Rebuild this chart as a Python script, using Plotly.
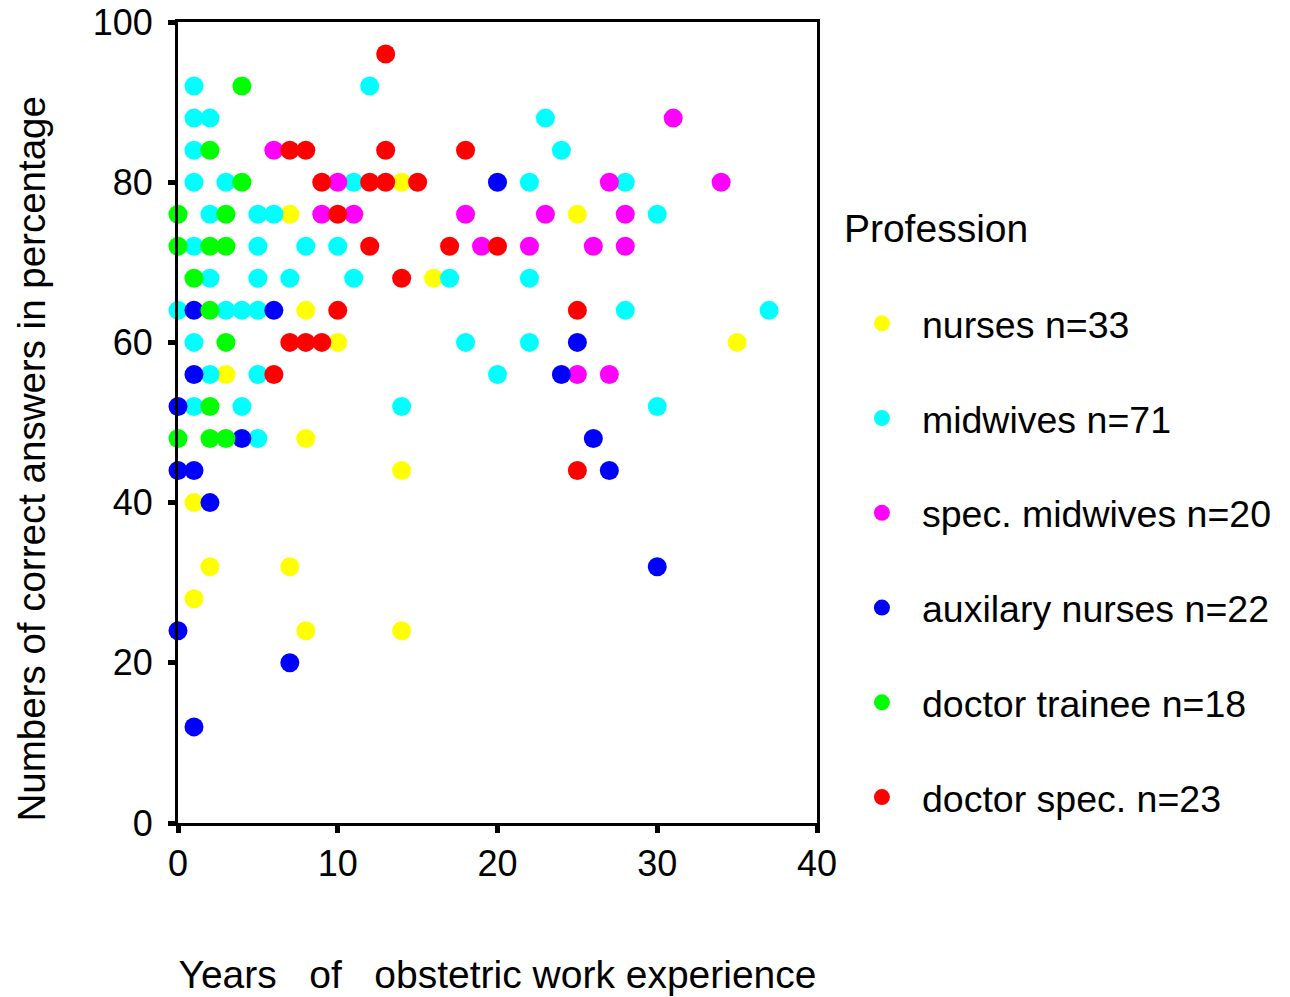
import plotly.graph_objects as go

# ---- data (years of experience, % correct answers) ----
nurses_x = [7, 8, 10, 3, 8, 1, 2, 7, 1, 8, 14, 16, 14, 14, 25, 35]
nurses_y = [76, 64, 60, 56, 48, 40, 32, 32, 28, 24, 80, 68, 44, 24, 76, 60]

midwives_x = [1, 12, 1, 2, 23, 1, 24, 1, 3, 11, 22, 28, 2, 5, 6, 30, 1, 5, 8, 10,
              2, 5, 7, 11, 17, 22, 0, 3, 4, 5, 28, 37, 1, 18, 22, 2, 5, 20, 1, 4, 14, 30, 5]
midwives_y = [92, 92, 88, 88, 88, 84, 84, 80, 80, 80, 80, 80, 76, 76, 76, 76, 72, 72, 72, 72,
              68, 68, 68, 68, 68, 68, 64, 64, 64, 64, 64, 64, 60, 60, 60, 56, 56, 56, 52, 52, 52, 52, 48]

spec_mid_x = [6, 10, 27, 34, 9, 11, 18, 23, 28, 19, 22, 26, 28, 31, 25, 27]
spec_mid_y = [84, 80, 80, 80, 76, 76, 76, 76, 76, 72, 72, 72, 72, 88, 56, 56]

aux_x = [20, 1, 6, 25, 1, 24, 0, 4, 26, 0, 1, 27, 2, 30, 0, 7, 1]
aux_y = [80, 64, 64, 60, 56, 56, 52, 48, 48, 44, 44, 44, 40, 32, 24, 20, 12]

trainee_x = [4, 2, 4, 0, 3, 0, 2, 3, 1, 2, 3, 2, 0, 2, 3]
trainee_y = [92, 84, 80, 76, 76, 72, 72, 72, 68, 64, 60, 52, 48, 48, 48]

docspec_x = [13, 7, 8, 13, 18, 9, 12, 13, 15, 10, 12, 17, 20, 14, 10, 25, 7, 8, 9, 6, 25]
docspec_y = [96, 84, 84, 84, 84, 80, 80, 80, 80, 76, 72, 72, 72, 68, 64, 64, 60, 60, 60, 56, 44]

groups = [
    ("nurses n=33", nurses_x, nurses_y, "#FFFF00"),
    ("midwives n=71", midwives_x, midwives_y, "#00FFFF"),
    ("spec. midwives n=20", spec_mid_x, spec_mid_y, "#FF00FF"),
    ("auxilary nurses n=22", aux_x, aux_y, "#0000FF"),
    ("doctor trainee n=18", trainee_x, trainee_y, "#00FF00"),
    ("doctor spec. n=23", docspec_x, docspec_y, "#FF0000"),
]

x_ticks = [0, 10, 20, 30, 40]
y_ticks = [0, 20, 40, 60, 80, 100]

FONT = "Liberation Sans, Arial, sans-serif"

fig = go.Figure()
for i, (name, xs, ys, col) in enumerate(groups):
    fig.add_trace(go.Scatter(
        x=xs, y=ys, mode="markers", name=name, legendgroup=f"g{i}",
        marker=dict(size=19, color=col, line=dict(width=0)),
        cliponaxis=False,
    ))

fig.update_layout(
    template="none",
    width=1290, height=997,
    margin=dict(l=178, r=473, t=22, b=174, autoexpand=False),
    paper_bgcolor="white", plot_bgcolor="white",
    font=dict(family=FONT, color="black", size=36),
    showlegend=True,
    legend=dict(
        title=dict(text="Profession<br> ", font=dict(size=39)),
        font=dict(size=37.5),
        x=1.039, y=0.789, xanchor="left", yanchor="top",
        tracegroupgap=43, itemwidth=70,
        bgcolor="rgba(0,0,0,0)", borderwidth=0,
    ),
)

fig.update_xaxes(
    range=[0, 40], tickvals=x_ticks, ticktext=[str(v) for v in x_ticks],
    showline=True, linecolor="black", linewidth=3, mirror=True,
    ticks="outside", ticklen=7, tickwidth=5, tickcolor="black",
    showgrid=False, zeroline=False, automargin=False,
    ticklabeloverflow="allow",
    tickfont=dict(size=36),
    title=dict(text="Years\u00a0\u00a0\u00a0of\u00a0\u00a0\u00a0obstetric work experience",
               font=dict(size=39), standoff=78),
)
fig.update_yaxes(
    range=[0, 100], tickvals=y_ticks, ticktext=[str(v) for v in y_ticks],
    showline=True, linecolor="black", linewidth=3, mirror=True,
    ticks="outside", ticklen=7, tickwidth=5, tickcolor="black",
    showgrid=False, zeroline=False, automargin=False,
    ticklabeloverflow="allow",
    tickfont=dict(size=36), ticklabelstandoff=8,
)

fig.add_annotation(
    text="Numbers of correct answers in percentage",
    xref="paper", yref="paper", x=-0.2285, y=0, xanchor="center", yanchor="bottom",
    textangle=-90, showarrow=False, font=dict(size=38.5),
)

fig.write_html(
    "out.html",
    config={"displayModeBar": False},
    post_script="document.body.style.margin='0';document.body.style.overflow='hidden';",
)
